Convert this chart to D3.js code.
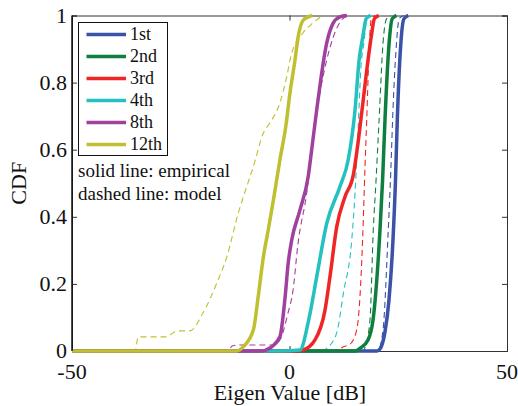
<!DOCTYPE html>
<html lang="en">
<head>
  <meta charset="UTF-8">
  <title>Eigen value CDF</title>
</head>

<style>
body { margin: 0; background: white; }
text { font-family: "Liberation Serif", "Times New Roman", Times, "DejaVu Serif", serif; fill: #111; }
</style>

<body>

  <svg width="518" height="406"></svg>

  <script src="https://cdn.jsdelivr.net/npm/d3@7"></script>

  <script>

    // series names + colours (legend order)
    var names = ["1st", "2nd", "3rd", "4th", "8th", "12th"]
    var colors = ["#3a52a8", "#0f7f3f", "#f02626", "#25c0c0", "#a0409f", "#bfbf2f"]

    var xTicks = [-50, 0, 50]
    var yTicks = [0, 0.2, 0.4, 0.6, 0.8, 1]

    // [eigen value dB, CDF]
    var emp1st = [[-50,0],[20.1,0],[20.8,0.006],[21.95,0.057],[22.87,0.152],[23.79,0.331],[24.37,0.51],[24.78,0.689],[25.6,0.918],[26.3,0.99],[27.3,1]]
    var mod1st = [[-50,0],[20.3,0],[21.5,0.063],[22.7,0.36],[23.3,0.54],[23.7,0.689],[24.6,0.918],[25.2,0.99],[26.2,1]]

    var emp2nd = [[-50,0],[15.2,0],[16.2,0.008],[18.05,0.033],[19.2,0.092],[20.8,0.36],[21.4,0.51],[21.95,0.689],[22.9,0.918],[23.6,0.99],[24.6,1]]
    var mod2nd = [[-50,0],[17.0,0],[17.4,0.012],[18.5,0.092],[19.26,0.36],[19.9,0.51],[20.6,0.689],[21.5,0.918],[22.3,0.99],[23.3,1]]

    var emp3rd = [[-50,0],[1.3,0],[3.1,0.003],[5.86,0.033],[8.16,0.122],[9.3,0.221],[10.85,0.37],[12.76,0.46],[14.67,0.525],[15.75,0.62],[16.67,0.718],[18.05,0.867],[18.85,0.942],[19.5,0.99],[20.5,1]]
    var mod3rd = [[-50,0],[10.7,0],[12.3,0.012],[13.9,0.02],[15.45,0.063],[16.2,0.162],[16.8,0.33],[17.36,0.55],[17.75,0.689],[18.3,0.897],[18.8,0.99],[19.8,1]]

    var emp4th = [[-50,0],[-2.2,0],[2.4,0.003],[4.5,0.098],[6.25,0.221],[8.55,0.38],[11.6,0.49],[13.5,0.57],[15.06,0.718],[16.0,0.867],[16.9,0.94],[17.6,0.99],[18.6,1]]
    var mod4th = [[-50,0],[7.5,0],[8.55,0.008],[10.85,0.054],[12.4,0.173],[14.3,0.33],[15.06,0.47],[15.8,0.67],[16.4,0.84],[17.1,0.918],[17.8,0.99],[18.8,1]]

    var emp8th = [[-50,0],[-6.5,0],[-4.5,0.009],[-2.2,0.043],[-1.0,0.162],[-0.3,0.262],[0.5,0.33],[2.4,0.42],[4.3,0.52],[5.1,0.6],[6.25,0.718],[8.55,0.918],[10.07,0.978],[11.6,0.996],[13.2,1]]
    var mod8th = [[-50,0],[-14.1,0],[-13.2,0.015],[-11.4,0.018],[-3.8,0.018],[-2.2,0.033],[-0.35,0.113],[0.8,0.18],[1.95,0.32],[3.95,0.47],[5.5,0.64],[7.0,0.77],[8.55,0.867],[10.07,0.936],[12.0,0.987],[13.6,1]]

    var emp12th = [[-50,0],[-12.1,0],[-10.6,0.013],[-8.3,0.063],[-7.2,0.162],[-6.0,0.281],[-4.9,0.36],[-3.7,0.45],[-2.2,0.57],[-0.8,0.674],[0.1,0.768],[1.26,0.867],[2.0,0.937],[3.2,0.987],[5.2,1]]
    var mod12th = [[-50,0],[-35.5,0],[-34.8,0.042],[-28.6,0.042],[-25.6,0.06],[-22.9,0.06],[-19.9,0.113],[-16.7,0.203],[-14.4,0.281],[-11.8,0.41],[-10.6,0.46],[-8.3,0.55],[-6.0,0.65],[-4.5,0.68],[-2.2,0.74],[-0.6,0.82],[0.35,0.88],[3.1,0.948],[5.4,0.978],[7.6,1]]

    var empirical = [emp1st, emp2nd, emp3rd, emp4th, emp8th, emp12th]
    var model = [mod1st, mod2nd, mod3rd, mod4th, mod8th, mod12th]

    var margin = {top: 15.5, right: 11, bottom: 55, left: 72}
    var W = 518, H = 406

    var x = d3.scaleLinear().domain([-50, 50]).range([margin.left, W - margin.right])
    var y = d3.scaleLinear().domain([0, 1]).range([H - margin.bottom, margin.top])

    var svg = d3.select('svg')

    var line = d3.line()
      .x(d => x(d[0]))
      .y(d => y(d[1]))
      .curve(d3.curveMonotoneX)

    // axes box with inward ticks
    var tl = 5
    svg.append('g')
      .attr('transform', 'translate(0,' + y(0) + ')')
      .call(d3.axisBottom(x).tickValues(xTicks).tickSize(-tl).tickFormat(''))
    svg.append('g')
      .attr('transform', 'translate(0,' + y(1) + ')')
      .call(d3.axisTop(x).tickValues(xTicks).tickSize(-tl).tickFormat(''))
    svg.append('g')
      .attr('transform', 'translate(' + x(50) + ',0)')
      .call(d3.axisRight(y).tickValues(yTicks).tickSize(-tl).tickFormat(''))
    svg.append('g')
      .attr('transform', 'translate(' + x(-50) + ',0)')
      .call(d3.axisLeft(y).tickValues(yTicks).tickSize(-tl).tickFormat(''))
    svg.selectAll('.domain').attr('stroke', '#333').attr('stroke-width', 1)
    svg.selectAll('.tick line').attr('stroke', '#333')

    // model (dashed) then empirical (solid)
    svg.append('g').selectAll('path')
      .data(model)
      .enter()
      .append('path')
      .attr('d', line)
      .attr('fill', 'none')
      .attr('stroke', (d, i) => colors[i])
      .attr('stroke-width', 1.1)
      .attr('stroke-dasharray', '6,4')

    svg.append('g').selectAll('path')
      .data(empirical)
      .enter()
      .append('path')
      .attr('d', line)
      .attr('fill', 'none')
      .attr('stroke', (d, i) => colors[i])
      .attr('stroke-width', 3.5)
      .attr('stroke-linejoin', 'round')

    // left axis drawn darker on top
    svg.append('line')
      .attr('x1', x(-50)).attr('x2', x(-50))
      .attr('y1', y(0)).attr('y2', y(1))
      .attr('stroke', '#111').attr('stroke-width', 1.5)

    // tick labels
    svg.selectAll('.xlab')
      .data(xTicks)
      .enter()
      .append('text')
      .attr('x', d => x(d))
      .attr('y', 379)
      .attr('text-anchor', 'middle')
      .style('font-size', '22px')
      .text(d => d)

    svg.selectAll('.ylab')
      .data(yTicks)
      .enter()
      .append('text')
      .attr('x', 67)
      .attr('y', d => y(d))
      .attr('dy', '0.33em')
      .attr('text-anchor', 'end')
      .style('font-size', '22px')
      .text(d => d)

    svg.append('text')
      .attr('x', 290)
      .attr('y', 400)
      .attr('text-anchor', 'middle')
      .style('font-size', '22px')
      .text('Eigen Value [dB]')

    svg.append('text')
      .attr('transform', 'translate(26,' + (y(0.5)) + ') rotate(-90)')
      .attr('text-anchor', 'middle')
      .style('font-size', '22px')
      .text('CDF')

    // legend
    var leg = svg.append('g')
    leg.append('rect')
      .attr('x', 78.5).attr('y', 22.5)
      .attr('width', 89).attr('height', 133)
      .attr('fill', 'white').attr('stroke', '#111').attr('stroke-width', 1)

    var items = leg.selectAll('g')
      .data(names)
      .enter()
      .append('g')
      .attr('transform', (d, i) => 'translate(0,' + (34.5 + i * 22) + ')')
    items.append('line')
      .attr('x1', 86.5).attr('x2', 126)
      .attr('stroke', (d, i) => colors[i])
      .attr('stroke-width', 3.5)
    items.append('text')
      .attr('x', 130)
      .attr('dy', '0.33em')
      .style('font-size', '18px')
      .text(d => d)

    svg.append('text')
      .attr('x', 78).attr('y', 177)
      .style('font-size', '19px')
      .text('solid line: empirical')
    svg.append('text')
      .attr('x', 78).attr('y', 200)
      .style('font-size', '19px')
      .text('dashed line: model')
  </script>

</body>
</html>
